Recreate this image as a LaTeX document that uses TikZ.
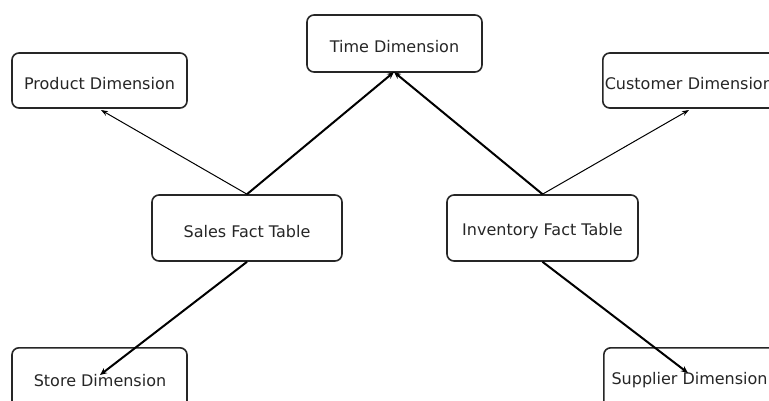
\documentclass[tikz,border=0pt]{standalone}
\usepackage{fontspec}
\setmainfont{DejaVu Sans}
\usetikzlibrary{arrows.meta}
\begin{document}
\begin{tikzpicture}[x=1pt,y=-1pt,
  label font/.style={font=\fontsize{16}{19}\selectfont, text=black!85},
  box/.style={draw=black!85, line width=1.6pt, rounded corners=7pt, fill=white,
    label font, inner sep=0pt, text depth=0pt, text height=19pt},
  thin link/.style={line width=1pt, -{Stealth[length=7pt,width=5pt]}},
  thick link/.style={line width=2pt, -{Stealth[length=7pt,width=6pt]}}]
\useasboundingbox (0,0) rectangle (769,401);
\clip (0,0) rectangle (769,401);
% dimension tables
\node[box, minimum width=175pt, minimum height=55pt] (product) at (99.5,80.5) {Product Dimension};
\node[box, minimum width=175pt, minimum height=57pt] (time) at (394.5,43.5) {Time Dimension};
\node[box, minimum width=190pt, minimum height=55pt, text width=190pt, align=left, anchor=west]
  (customer) at (602,80.5) {\hspace*{2pt}Customer Dimension};
\node[box, minimum width=175pt, minimum height=70pt, anchor=north]
  (store) at (99.5,347) {};
\node[label font] (storelbl) at (100,381) {Store Dimension};
\node[box, minimum width=190pt, minimum height=70pt, anchor=north west]
  (supplier) at (603,347) {};
\node[label font, anchor=west] (supplierlbl) at (608,380) {Supplier Dimension};
% fact tables
\node[box, minimum width=190pt, minimum height=66pt] (sales) at (247,228) {Sales Fact Table};
\node[box, minimum width=191pt, minimum height=66pt, text height=14pt] (inventory) at (542.5,228) {Inventory Fact Table};
% links
\coordinate (timein) at (394,72);
\coordinate (prodin) at (101,110);
\coordinate (custin) at (689,110);
\coordinate (storein) at (100,375);
\coordinate (suppin) at (688,373);
\draw[thick link] (sales.north) -- (timein);
\draw[thick link] (inventory.north) -- (timein);
\draw[thin link] (sales.north) -- (prodin);
\draw[thin link] (inventory.north) -- (custin);
\draw[thick link] (sales.south) -- (storein);
\draw[thick link] (inventory.south) -- (suppin);
\end{tikzpicture}
\end{document}
